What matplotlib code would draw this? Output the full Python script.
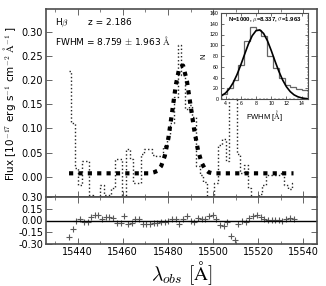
import matplotlib
matplotlib.use("Agg")
import matplotlib.pyplot as plt
from matplotlib.ticker import MultipleLocator

plt.rcParams["mathtext.fontset"] = "cm"

# spectrum (observed wavelength, flux, best-fit model, residual)
wave = [15436.2, 15437.8, 15439.5, 15441.1, 15442.7, 15444.4, 15446.0, 15447.6,
        15449.2, 15450.9, 15452.5, 15454.1, 15455.8, 15457.4, 15459.0, 15460.7,
        15462.3, 15463.9, 15465.5, 15467.2, 15468.8, 15470.4, 15472.1, 15473.7,
        15475.3, 15477.0, 15478.6, 15480.2, 15481.8, 15483.5, 15485.1, 15486.7,
        15488.4, 15490.0, 15491.6, 15493.3, 15494.9, 15496.5, 15498.1, 15499.8,
        15501.4, 15503.0, 15504.7, 15506.3, 15507.9, 15509.6, 15511.2, 15512.8,
        15514.4, 15516.1, 15517.7, 15519.3, 15521.0, 15522.6, 15524.2, 15525.9,
        15527.5, 15529.1, 15530.7, 15532.4, 15534.0, 15535.6]
flux = [0.218, 0.112, 0.017, -0.018, 0.032, 0.032, -0.038, -0.068,
        -0.068, -0.018, -0.038, -0.038, -0.023, 0.037, 0.037, -0.053,
        0.057, 0.037, -0.013, -0.013, 0.047, 0.057, 0.057, 0.044,
        0.042, 0.042, 0.063, 0.085, 0.112, 0.165, 0.272, 0.210,
        0.140, 0.148, 0.123, 0.022, 0.004, -0.010, -0.049, -0.060,
        -0.013, 0.065, 0.077, 0.032, 0.207, 0.262, 0.047, 0.007,
        0.024, -0.023, -0.051, -0.060, -0.035, -0.018, 0.003, 0.003,
        0.003, 0.003, 0.007, -0.018, -0.026, -0.013]
model = [0.007] * 23 + [0.009, 0.012, 0.022, 0.043, 0.080, 0.132, 0.190, 0.227,
                        0.230, 0.198, 0.148, 0.098, 0.055, 0.029, 0.015, 0.009] + [0.007] * 23
resid = [-0.21, -0.105, -0.01, 0.025, -0.025, -0.025, 0.045, 0.075,
         0.075, 0.025, 0.045, 0.045, 0.03, -0.03, -0.03, 0.06,
         -0.05, -0.03, 0.02, 0.02, -0.04, -0.05, -0.05, -0.035,
         -0.03, -0.02, -0.02, -0.005, 0.02, 0.025, -0.045, 0.02,
         0.058, 0.0, -0.025, 0.033, 0.025, 0.025, 0.058, 0.067,
         0.02, -0.058, -0.07, -0.025, -0.20, -0.255, -0.04, 0.0,
         -0.017, 0.03, 0.058, 0.067, 0.042, 0.025, 0.004, 0.004,
         0.004, 0.004, 0.0, 0.025, 0.033, 0.02]

# FWHM distribution from the MC realisations
hist_edges = [3.40, 4.16, 4.92, 5.68, 6.44, 7.20, 7.96, 8.72, 9.48, 10.24,
              11.00, 11.76, 12.52, 13.28, 14.04, 14.80]
hist_counts = [9, 20, 36, 64, 108, 134, 128, 117, 80, 58, 40, 26, 22, 19, 16]
fit_x = [3.4, 3.5, 4.0, 4.5, 5.0, 5.5, 6.0, 6.5, 7.0, 7.5, 8.0, 8.5, 9.0, 9.5,
         10.0, 10.5, 11.0, 11.5, 12.0, 12.5, 13.0, 13.5, 14.0, 14.5, 14.8]
fit_y = [5.4, 6.2, 11.2, 19.0, 30.3, 45.3, 63.4, 83.1, 102.2, 117.7, 127.1, 128.6,
         121.9, 108.4, 90.2, 70.4, 51.5, 35.3, 22.7, 13.7, 7.7, 4.1, 2.0, 0.9, 0.6]

W, H = 326, 286
fig = plt.figure(figsize=(W / 100, H / 100), dpi=100)

ax = fig.add_axes([46 / W, 1 - 197 / H, 271 / W, 188 / H])
axr = fig.add_axes([46 / W, 1 - 244 / H, 271 / W, 47 / H], sharex=ax)

for a in (ax, axr):
    for s in a.spines.values():
        s.set_color("0.3")
        s.set_linewidth(1.2)
    a.tick_params(direction="in", top=True, right=True, labelsize=7,
                  length=4, width=0.6, color="0.3", pad=2)
    a.tick_params(which="minor", direction="in", top=True, right=True,
                  length=2, width=0.5, color="0.3")

ax.plot(wave, flux, ls=":", lw=1.0, color="0.15", drawstyle="steps-mid")
ax.plot(wave, model, color="k", lw=3, dashes=(1.0, 1.25), solid_capstyle="butt",
        dash_capstyle="butt")
ax.set_xlim(15426, 15546)
ax.set_ylim(-0.042, 0.347)
ax.yaxis.set_major_locator(MultipleLocator(0.05))
ax.yaxis.set_major_formatter(plt.FormatStrFormatter("%.2f"))
ax.xaxis.set_major_locator(MultipleLocator(20))
ax.xaxis.set_minor_locator(MultipleLocator(10))
ax.tick_params(labelbottom=False)
ax.set_ylabel(r"Flux [10$^{-17}$ erg s$^{-1}$ cm$^{-2}$ $\mathrm{\AA}^{-1}$ ]", fontsize=7.5)
ax.yaxis.set_label_coords(-0.105, 0.5)

ax.text(0.033, 0.926, r"H$\beta$", transform=ax.transAxes, fontsize=6.5, va="center")
ax.text(0.155, 0.926, "z = 2.186", transform=ax.transAxes, fontsize=6.5, va="center")
ax.text(0.033, 0.835, r"FWHM = 8.759 $\pm$ 1.963 $\mathrm{\AA}$", transform=ax.transAxes,
        fontsize=6.5, va="center")

axr.plot(wave, resid, "+", color="0.35", ms=5, mew=0.8)
axr.axhline(0, color="k", lw=1)
axr.set_ylim(-0.3, 0.3)
axr.set_yticks([-0.30, -0.15, 0.0, 0.15, 0.30])
axr.yaxis.set_major_formatter(plt.FormatStrFormatter("%.2f"))
axr.set_xlabel(r"$\lambda_{obs}\ [\mathrm{\AA}]$", fontsize=14, labelpad=2)

# inset: distribution of FWHM
ins = fig.add_axes([221 / W, 1 - 99 / H, 87 / W, 86 / H])
ins.stairs(hist_counts, hist_edges, color="0.4", lw=0.9)
ins.plot(fit_x, fit_y, color="k", lw=1.2)
ins.set_xlim(3.4, 14.83)
ins.set_ylim(0, 160)
ins.xaxis.set_major_locator(MultipleLocator(2))
ins.xaxis.set_minor_locator(MultipleLocator(0.5))
ins.yaxis.set_major_locator(MultipleLocator(20))
ins.yaxis.set_minor_locator(MultipleLocator(5))
for s in ins.spines.values():
    s.set_color("0.3")
    s.set_linewidth(0.8)
ins.tick_params(direction="in", top=True, right=True, labelsize=3.8, length=2,
                width=0.4, pad=1.5)
ins.tick_params(which="minor", direction="in", top=True, right=True, length=1, width=0.3)
for lab in ins.get_xticklabels() + ins.get_yticklabels():
    lab.set_family("Liberation Sans")
ins.set_xlabel(r"FWHM [$\mathrm{\AA}$]", fontsize=5.5, family="Liberation Sans", labelpad=1.5)
ins.set_ylabel("N", fontsize=5.5, family="Liberation Sans", labelpad=2)
ins.text(0.5, 0.93, r"N=1000, $\mu$=8.337, $\sigma$=1.963", transform=ins.transAxes,
         fontsize=4.3, ha="center", va="center", family="Liberation Sans", weight="bold")

fig.savefig("out.png", dpi=100)
plt.close(fig)
